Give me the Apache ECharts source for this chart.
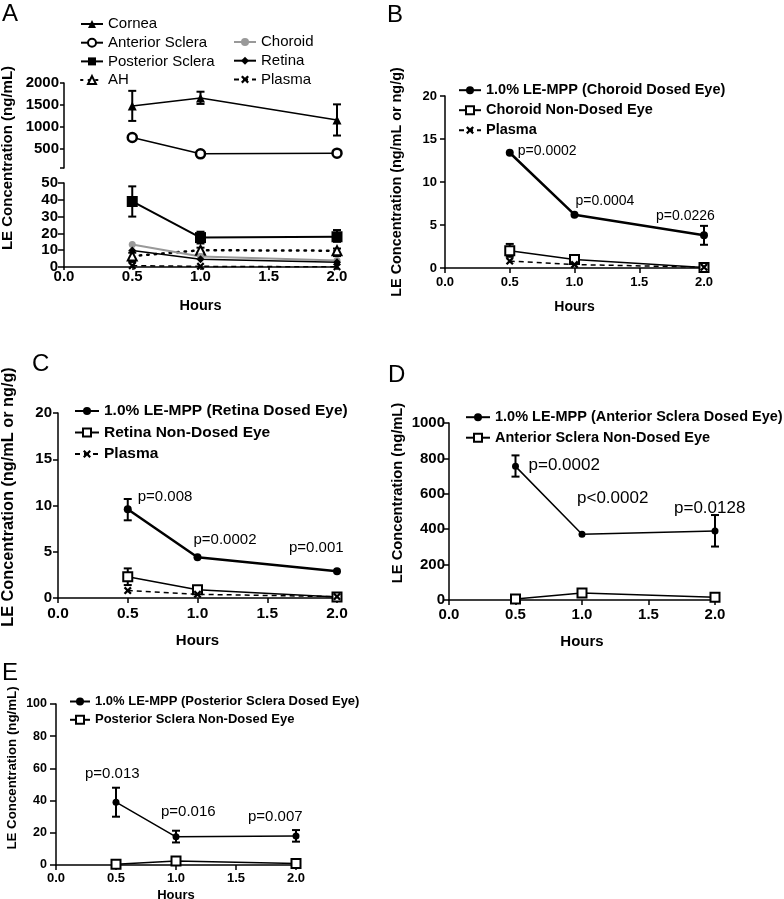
<!DOCTYPE html>
<html><head><meta charset="utf-8">
<script src="https://cdn.jsdelivr.net/npm/echarts@6/dist/echarts.min.js"></script>
<style>html,body{margin:0;padding:0;background:#fff}#c{width:784px;height:899px}</style>
</head><body><div id="c"></div>
<script>
// ---------------- DATA ----------------
const hours = [0.5, 1.0, 2.0];

// Panel A
const aCornea = [1470, 1655, 1150];
const aCorneaErr = [[1130, 1820], [1520, 1800], [795, 1510]];
const aAntSclera = [750, 375, 390];
const aAntScleraErr = [[710, 790], [345, 405], [350, 430]];
const aPostSclera = [39, 17.5, 18];
const aPostScleraErr = [[30, 48], [14, 21], [15, 22]];
const aAH = [6.5, 10, 9.7];
const aAHErr = [[3, 8.5], [8.5, 11.5], [6.5, 11]];
const aChoroid = [13.4, 6.3, 3.8];
const aRetina = [9.8, 4.6, 2.8];
const aPlasma = [0.8, 0.4, 0.1];
const aUpperLabels = [500, 1000, 1500, 2000];

// Panel B
const bDosed = [13.4, 6.2, 3.8];
const bDosedErr = [null, null, [2.7, 4.9]];
const bNonDosed = [2.0, 1.0, 0.05];
const bNonDosedErr = [[1.3, 2.8], [0.7, 1.3], [0.0, 0.3]];
const bPlasma = [0.8, 0.4, 0.1];
const bP = ['p=0.0002', 'p=0.0004', 'p=0.0226'];

// Panel C
const cDosed = [9.6, 4.4, 2.9];
const cDosedErr = [[8.4, 10.7], null, null];
const cNonDosed = [2.3, 0.9, 0.1];
const cNonDosedErr = [[1.4, 3.2], [0.6, 1.2], [0.0, 0.3]];
const cPlasma = [0.8, 0.4, 0.15];
const cP = ['p=0.008', 'p=0.0002', 'p=0.001'];

// Panel D
const dDosed = [755, 372, 390];
const dDosedErr = [[697, 817], null, [302, 480]];
const dNonDosed = [5, 40, 15];
const dNonDosedErr = [[0, 12], [28, 52], [5, 25]];
const dP = ['p=0.0002', 'p<0.0002', 'p=0.0128'];

// Panel E
const eDosed = [39, 17.5, 18];
const eDosedErr = [[30, 48], [14, 21.3], [14.5, 21.7]];
const eNonDosed = [0.5, 2.5, 1];
const eNonDosedErr = [[0, 1], [1.5, 3.5], [0, 2]];
const eP = ['p=0.013', 'p=0.016', 'p=0.007'];

// ---------------- STYLE / BUILD ----------------
const FONT = "'Liberation Sans', Arial, Helvetica, sans-serif";
const X_PATH = 'path://M2,0L5,3L8,0L10,2L7,5L10,8L8,10L5,7L2,10L0,8L3,5L0,2Z';

function pts(vals) { return hours.map((h, i) => [h, vals[i]]); }
function errs(e) { return hours.map((h, i) => e[i] ? [h, e[i][0], e[i][1]] : null).filter(Boolean); }
function ptsLabeled(vals, labels, offsets, fs) {
  return hours.map((h, i) => ({
    value: [h, vals[i]],
    label: { show: true, position: 'right', distance: 5, offset: offsets[i], formatter: labels[i],
      fontSize: fs, color: '#000', fontFamily: FONT }
  }));
}

function errRender(params, api) {
  const x = api.value(0), lo = api.value(1), hi = api.value(2);
  const a = api.coord([x, lo]), b = api.coord([x, hi]);
  const w = 4;
  const style = { stroke: '#000', lineWidth: 2, fill: null };
  return { type: 'group', children: [
    { type: 'line', shape: { x1: a[0], y1: a[1], x2: b[0], y2: b[1] }, style },
    { type: 'line', shape: { x1: a[0] - w, y1: a[1], x2: a[0] + w, y2: a[1] }, style },
    { type: 'line', shape: { x1: b[0] - w, y1: b[1], x2: b[0] + w, y2: b[1] }, style }
  ]};
}
function errSeries(idx, e) {
  return { type: 'custom', xAxisIndex: idx, yAxisIndex: idx, renderItem: errRender,
    data: errs(e), encode: { x: 0, y: [1, 2] }, z: 1, silent: true };
}
function line(name, idx, data, o) {
  return Object.assign({ type: 'line', name, xAxisIndex: idx, yAxisIndex: idx, data, z: 3,
    lineStyle: { color: '#000', width: 1.5 }, itemStyle: { color: '#000' } }, o);
}
const filledCircle = (s) => ({ symbol: 'circle', symbolSize: s, itemStyle: { color: '#000' } });
const openRect = { symbol: 'rect', symbolSize: 9, itemStyle: { color: '#fff', borderColor: '#000', borderWidth: 2 } };
const plasmaStyle = { symbol: X_PATH, symbolSize: 8, itemStyle: { color: '#000' },
  lineStyle: { color: '#000', width: 1.5, type: [5, 4] } };

function xAx(grid, o) {
  return { type: 'value', gridIndex: grid, min: 0, max: 2, interval: 0.5, show: o.show !== false,
    name: 'Hours', nameLocation: 'middle', nameGap: o.nameGap,
    nameTextStyle: { fontSize: o.nameFs, fontWeight: 'bold', color: '#000', fontFamily: FONT },
    axisLine: { show: true, onZero: false, lineStyle: { color: '#000', width: 1.5 } },
    axisTick: { show: true, length: o.tick || 5, lineStyle: { color: '#000', width: 1.5 } },
    axisLabel: { fontSize: o.fs, fontWeight: 'bold', color: '#000', margin: o.margin, fontFamily: FONT,
      formatter: v => v.toFixed(1) },
    splitLine: { show: false } };
}
function yAx(grid, o) {
  const ax = { type: 'value', gridIndex: grid, min: o.min, max: o.max,
    axisLine: { show: true, onZero: false, lineStyle: { color: '#000', width: 1.5 } },
    axisTick: { show: true, length: o.tick || 5, lineStyle: { color: '#000', width: 1.5 } },
    axisLabel: { fontSize: o.fs, fontWeight: 'bold', color: '#000', margin: o.margin, fontFamily: FONT,
      formatter: v => String(v) },
    splitLine: { show: false } };
  if (o.interval) ax.interval = o.interval;
  if (o.labelValues) { ax.axisLabel.customValues = o.labelValues; ax.axisTick.customValues = o.tickValues; }
  return ax;
}
function legend(names, o) {
  return { data: names, orient: 'vertical', left: o.left, top: o.top, padding: 0,
    itemWidth: o.w, itemHeight: 10, itemGap: o.gap, selectedMode: false,
    textStyle: { fontSize: o.fs, fontWeight: o.bold ? 'bold' : 'normal', color: '#000', fontFamily: FONT } };
}
function vTitle(text, x, y, fs) {
  return { type: 'text', x, y, rotation: Math.PI / 2,
    style: { text, fontSize: fs, fontWeight: 'bold', fill: '#000', fontFamily: FONT, align: 'center', verticalAlign: 'middle' } };
}
function letter(text, x, y) {
  return { type: 'text', x, y, style: { text, fontSize: 24, fill: '#000', fontFamily: FONT } };
}

const option = {
  animation: false,
  backgroundColor: '#fff',
  grid: [
    { left: 64, top: 83, width: 273, height: 85, outerBoundsMode: 'none' },   // A upper
    { left: 64, top: 183, width: 273, height: 84, outerBoundsMode: 'none' },  // A lower
    { left: 445, top: 96, width: 259, height: 172, outerBoundsMode: 'none' }, // B
    { left: 58, top: 413, width: 279, height: 185, outerBoundsMode: 'none' }, // C
    { left: 449, top: 423, width: 266, height: 177, outerBoundsMode: 'none' },// D
    { left: 56, top: 704, width: 240, height: 161, outerBoundsMode: 'none' }  // E
  ],
  xAxis: [
    xAx(0, { show: false, fs: 15, margin: 2, nameGap: 30, nameFs: 14.5 }),
    xAx(1, { fs: 15, margin: 2, tick: 3, nameGap: 31, nameFs: 14.5 }),
    xAx(2, { fs: 13, margin: 8, nameGap: 32, nameFs: 14 }),
    xAx(3, { fs: 15.5, margin: 8, nameGap: 35, nameFs: 15 }),
    xAx(4, { fs: 15, margin: 7.5, nameGap: 34, nameFs: 15 }),
    xAx(5, { fs: 13, margin: 6.5, nameGap: 24, nameFs: 13 })
  ],
  yAxis: [
    yAx(0, { min: 50, max: 2000, fs: 15, margin: 5, tick: 4, labelValues: aUpperLabels, tickValues: [50].concat(aUpperLabels) }),
    yAx(1, { min: 0, max: 50, interval: 10, fs: 15, margin: 6, tick: 6 }),
    yAx(2, { min: 0, max: 20, interval: 5, fs: 13, margin: 8, tick: 5 }),
    yAx(3, { min: 0, max: 20, interval: 5, fs: 15, margin: 6, tick: 5 }),
    yAx(4, { min: 0, max: 1000, interval: 200, fs: 15, margin: 4, tick: 5 }),
    yAx(5, { min: 0, max: 100, interval: 20, fs: 12.5, margin: 9, tick: 6 })
  ],
  legend: [
    legend(['Cornea', 'Anterior Sclera', 'Posterior Sclera', 'AH'], { left: 80, top: 16.5, w: 22, gap: 3.7, fs: 15 }),
    legend(['Choroid', 'Retina', 'Plasma'], { left: 233, top: 34.5, w: 22, gap: 3.7, fs: 15 }),
    legend(['1.0% LE-MPP (Choroid Dosed Eye)', 'Choroid Non-Dosed Eye', 'Plasma'], { left: 458, top: 82.7, w: 22, gap: 5, fs: 14.5, bold: true }),
    legend(['1.0% LE-MPP (Retina Dosed Eye)', 'Retina Non-Dosed Eye', 'Plasma'], { left: 74, top: 403, w: 24, gap: 5.5, fs: 15.5, bold: true }),
    legend(['1.0% LE-MPP (Anterior Sclera Dosed Eye)', 'Anterior Sclera Non-Dosed Eye'], { left: 465, top: 409.7, w: 24, gap: 5.5, fs: 14.5, bold: true }),
    legend(['1.0% LE-MPP (Posterior Sclera Dosed Eye)', 'Posterior Sclera Non-Dosed Eye'], { left: 69, top: 695, w: 20, gap: 5.3, fs: 13, bold: true })
  ],
  graphic: [
    letter('A', 2, 2), letter('B', 387, 3), letter('C', 32, 352), letter('D', 388, 363), letter('E', 2, 661),
    vTitle('LE Concentration (ng/mL)', 8, 158, 15),
    vTitle('LE Concentration (ng/mL or ng/g)', 397, 182, 14.4),
    vTitle('LE Concentration (ng/mL or ng/g)', 9, 497, 16.3),
    vTitle('LE Concentration (ng/mL)', 398, 493, 14.7),
    vTitle('LE Concentration (ng/mL)', 12, 768, 13.3)
  ],
  series: [
    // ---- A upper
    errSeries(0, aCorneaErr),
    errSeries(0, aAntScleraErr),
    line('Cornea', 0, pts(aCornea), { symbol: 'triangle', symbolSize: 9 }),
    line('Anterior Sclera', 0, pts(aAntSclera), { symbol: 'circle', symbolSize: 9,
      itemStyle: { color: '#fff', borderColor: '#000', borderWidth: 2.5 } }),
    // ---- A lower
    errSeries(1, aPostScleraErr),
    errSeries(1, aAHErr),
    line('Posterior Sclera', 1, pts(aPostSclera), { symbol: 'rect', symbolSize: 11, lineStyle: { color: '#000', width: 2 } }),
    line('AH', 1, pts(aAH), { symbol: 'triangle', symbolSize: 9,
      itemStyle: { color: '#fff', borderColor: '#000', borderWidth: 2 },
      lineStyle: { color: '#000', width: 2.5, type: [1.5, 6], cap: 'round' } }),
    line('Choroid', 1, pts(aChoroid), { symbol: 'circle', symbolSize: 7, itemStyle: { color: '#999' },
      lineStyle: { color: '#999', width: 2 } }),
    line('Retina', 1, pts(aRetina), { symbol: 'diamond', symbolSize: 8 }),
    line('Plasma', 1, pts(aPlasma), plasmaStyle),
    // ---- B
    errSeries(2, bDosedErr),
    errSeries(2, bNonDosedErr),
    line('1.0% LE-MPP (Choroid Dosed Eye)', 2,
      ptsLabeled(bDosed, bP, [[-1, -2], [-8, -14], [-57, -19]], 14),
      Object.assign(filledCircle(8), { lineStyle: { color: '#000', width: 2.5 } })),
    line('Choroid Non-Dosed Eye', 2, pts(bNonDosed), openRect),
    line('Plasma', 2, pts(bPlasma), plasmaStyle),
    // ---- C
    errSeries(3, cDosedErr),
    errSeries(3, cNonDosedErr),
    line('1.0% LE-MPP (Retina Dosed Eye)', 3,
      ptsLabeled(cDosed, cP, [[1, -12], [-13, -17], [-57, -23]], 15),
      Object.assign(filledCircle(8), { lineStyle: { color: '#000', width: 2.5 } })),
    line('Retina Non-Dosed Eye', 3, pts(cNonDosed), openRect),
    line('Plasma', 3, pts(cPlasma), plasmaStyle),
    // ---- D
    errSeries(4, dDosedErr),
    errSeries(4, dNonDosedErr),
    line('1.0% LE-MPP (Anterior Sclera Dosed Eye)', 4,
      ptsLabeled(dDosed, dP, [[4.5, -1], [-13.5, -36], [-49.5, -23]], 17), filledCircle(7)),
    line('Anterior Sclera Non-Dosed Eye', 4, pts(dNonDosed), openRect),
    // ---- E
    errSeries(5, eDosedErr),
    errSeries(5, eNonDosedErr),
    line('1.0% LE-MPP (Posterior Sclera Dosed Eye)', 5,
      ptsLabeled(eDosed, eP, [[-39.5, -28], [-23.5, -25], [-56.5, -19]], 15), filledCircle(7)),
    line('Posterior Sclera Non-Dosed Eye', 5, pts(eNonDosed), openRect)
  ]
};

const chart = echarts.init(document.getElementById('c'), null, { renderer: 'canvas' });
chart.setOption(option);
</script>
</body></html>
